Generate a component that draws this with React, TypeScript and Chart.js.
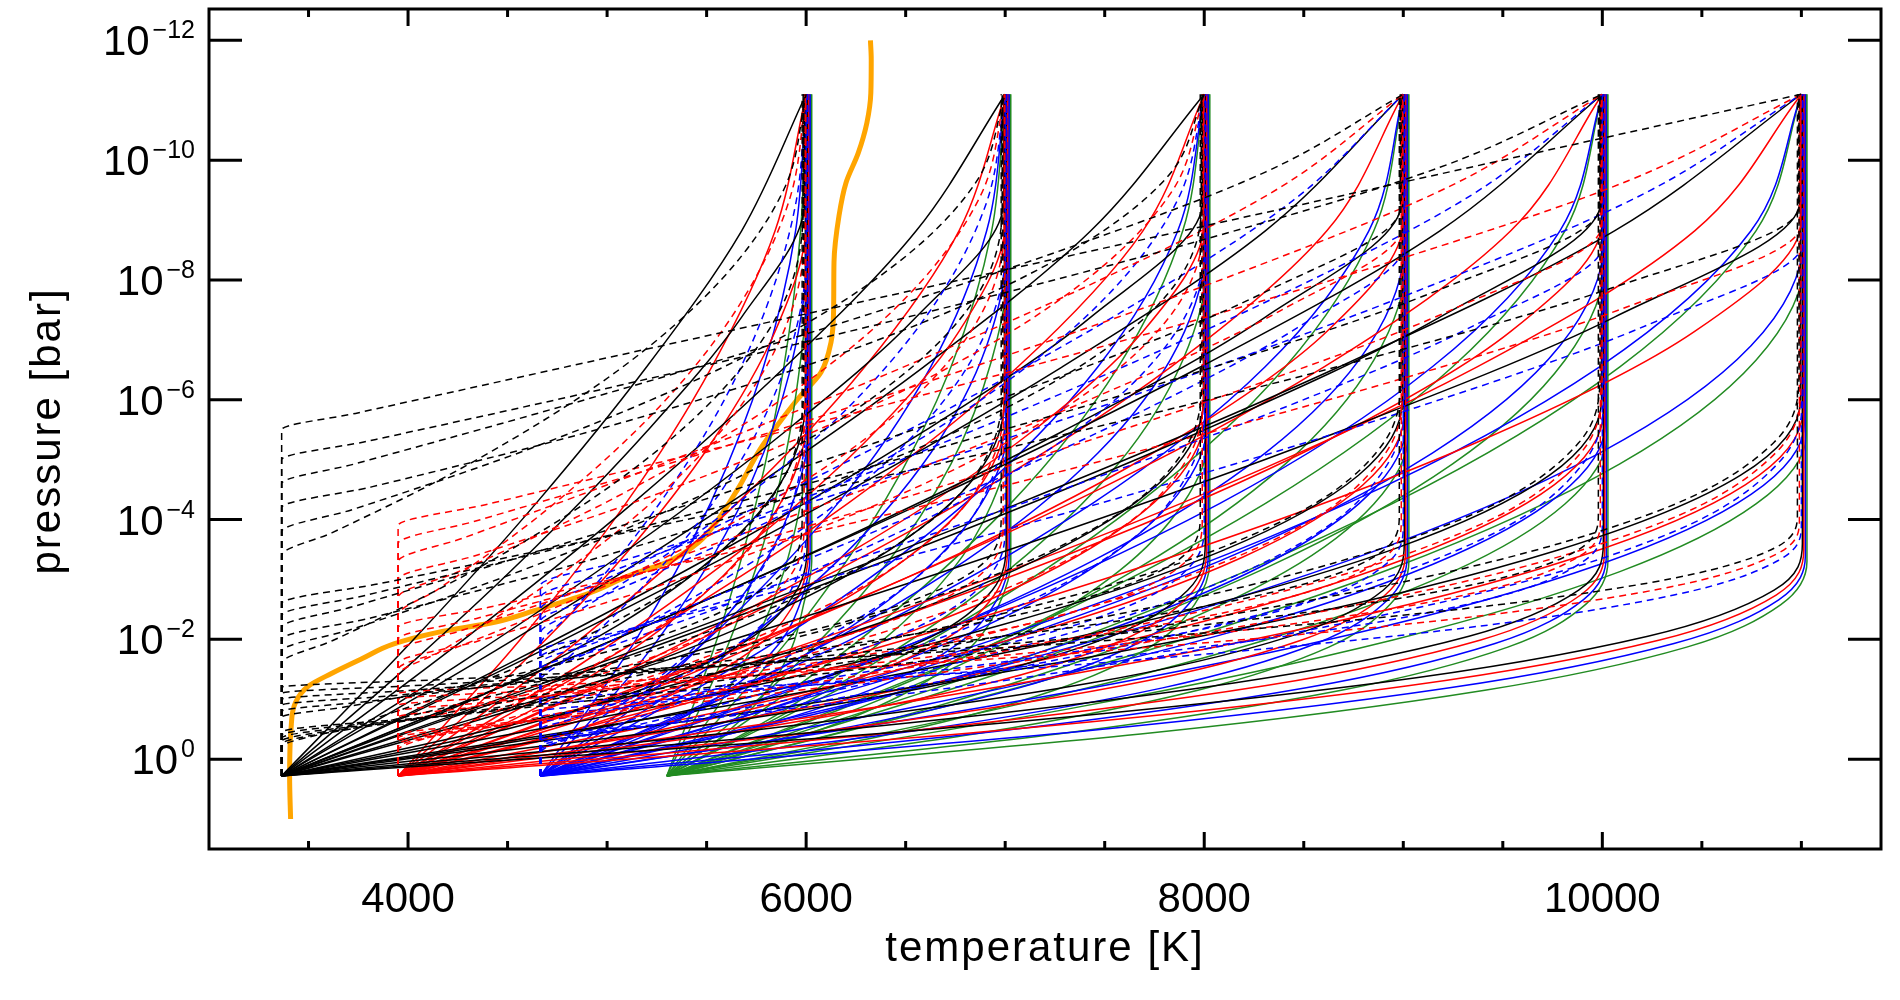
import React, { useEffect, useRef } from 'react';
import { Chart, registerables } from 'chart.js';

Chart.register(...registerables);

// Each profile: list of [temperature K, log10(pressure / bar)], from the deep end upwards.
type Profile = number[][];

const xMajorTicks = [4000, 6000, 8000, 10000];
const xMinorTicks = [3500, 4500, 5000, 5500, 6500, 7000, 7500, 8500, 9000, 9500, 10500, 11000];
const yTickExponents = [-12, -10, -8, -6, -4, -2, 0];

const blackDashed: Profile[] = [
  [[3365,0.28],[3365,-3.4],[3622,-3.785],[4314,-4.94],[5051,-6.48],[5578,-8.02],[5895,-9.56],[6000,-11.1]],
  [[3365,0.28],[3365,-3.8],[3719,-4.165],[4674,-5.26],[5691,-6.72],[6418,-8.18],[6855,-9.64],[7000,-11.1]],
  [[3365,0.28],[3365,-4.2],[3817,-4.545],[5034,-5.58],[6331,-6.96],[7258,-8.34],[7815,-9.72],[8000,-11.1]],
  [[3365,0.28],[3365,-4.6],[3728,-4.925],[4785,-5.9],[6098,-7.2],[7287,-8.5],[8307,-9.8],[9000,-11.1]],
  [[3365,0.28],[3365,-5.0],[3793,-5.305],[5037,-6.22],[6583,-7.44],[7983,-8.66],[9184,-9.88],[10000,-11.1]],
  [[3365,0.28],[3365,-5.5],[3747,-5.78],[4892,-6.62],[6419,-7.74],[7946,-8.86],[9473,-9.98],[11000,-11.1]],
  [[3365,0.28],[3365,-1.6],[3622,-1.98],[4314,-3.12],[5051,-4.64],[5578,-6.16],[5895,-7.68],[5985,-9.2],[5985,-11.1]],
  [[3365,0.28],[3365,-1.8],[3719,-2.17],[4674,-3.28],[5691,-4.76],[6418,-6.24],[6855,-7.72],[6985,-9.2],[6985,-11.1]],
  [[3365,0.28],[3365,-2.0],[3817,-2.36],[5034,-3.44],[6331,-4.88],[7258,-6.32],[7815,-7.76],[7985,-9.2],[7985,-11.1]],
  [[3365,0.28],[3365,-2.2],[3728,-2.55],[4785,-3.6],[6098,-5.0],[7287,-6.4],[8307,-7.8],[8985,-9.2],[8985,-11.1]],
  [[3365,0.28],[3365,-2.4],[3793,-2.74],[5037,-3.76],[6583,-5.12],[7983,-6.48],[9184,-7.84],[9985,-9.2],[9985,-11.1]],
  [[3365,0.28],[3365,-2.6],[3857,-2.93],[5289,-3.92],[7068,-5.24],[8679,-6.56],[10061,-7.88],[10985,-9.2],[10985,-11.1]],
  [[3365,0.28],[3365,-0.7],[3681,-0.87],[4493,-1.38],[5265,-2.06],[5734,-2.74],[5953,-3.42],[5980,-4.1],[5980,-11.1]],
  [[3365,0.28],[3365,-0.8],[3801,-0.965],[4921,-1.46],[5986,-2.12],[6633,-2.78],[6935,-3.44],[6980,-4.1],[6980,-11.1]],
  [[3365,0.28],[3365,-0.9],[3921,-1.06],[5349,-1.54],[6707,-2.18],[7532,-2.82],[7917,-3.46],[7980,-4.1],[7980,-11.1]],
  [[3365,0.28],[3365,-1.0],[4041,-1.155],[5777,-1.62],[7428,-2.24],[8431,-2.86],[8899,-3.48],[8980,-4.1],[8980,-11.1]],
  [[3365,0.28],[3365,-1.1],[4161,-1.25],[6205,-1.7],[8149,-2.3],[9330,-2.9],[9881,-3.5],[9980,-4.1],[9980,-11.1]],
  [[3365,0.28],[3365,-1.2],[4281,-1.345],[6633,-1.78],[8870,-2.36],[10229,-2.94],[10863,-3.52],[10980,-4.1],[10980,-11.1]],
  [[3365,0.28],[3365,-0.2],[3681,-0.515],[4493,-1.46],[5265,-2.72],[5734,-3.98],[5953,-5.24],[5988,-6.5],[5988,-11.1]],
  [[3365,0.28],[3365,-0.25],[3801,-0.56],[4921,-1.5],[5986,-2.75],[6633,-4.0],[6935,-5.25],[6988,-6.5],[6988,-11.1]],
  [[3365,0.28],[3365,-0.3],[3921,-0.61],[5349,-1.54],[6707,-2.78],[7532,-4.02],[7917,-5.26],[7988,-6.5],[7988,-11.1]],
  [[3365,0.28],[3365,-0.35],[4041,-0.66],[5777,-1.58],[7428,-2.81],[8431,-4.04],[8899,-5.27],[8988,-6.5],[8988,-11.1]],
  [[3365,0.28],[3365,-0.4],[4161,-0.71],[6205,-1.62],[8149,-2.84],[9330,-4.06],[9881,-5.28],[9988,-6.5],[9988,-11.1]],
  [[3365,0.28],[3365,-0.45],[4281,-0.75],[6633,-1.66],[8870,-2.87],[10229,-4.08],[10863,-5.29],[10988,-6.5],[10988,-11.1]],
];

const redDashed: Profile[] = [
  [[3950,0.28],[3950,-2.4],[4150,-2.835],[4688,-4.14],[5262,-5.88],[5672,-7.62],[5918,-9.36],[6000,-11.1]],
  [[3950,0.28],[3950,-2.7],[4247,-3.12],[5048,-4.38],[5902,-6.06],[6512,-7.74],[6878,-9.42],[7000,-11.1]],
  [[3950,0.28],[3950,-3.0],[4345,-3.405],[5408,-4.62],[6542,-6.24],[7352,-7.86],[7838,-9.48],[8000,-11.1]],
  [[3950,0.28],[3950,-3.3],[4276,-3.69],[5223,-4.86],[6399,-6.42],[7465,-7.98],[8379,-9.54],[9000,-11.1]],
  [[3950,0.28],[3950,-3.6],[4340,-3.975],[5475,-5.1],[6884,-6.6],[8161,-8.1],[9256,-9.6],[10000,-11.1]],
  [[3950,0.28],[3950,-3.9],[4405,-4.26],[5727,-5.34],[7369,-6.78],[8857,-8.22],[10133,-9.66],[11000,-11.1]],
  [[3950,0.28],[3950,-1.4],[4150,-1.775],[4688,-2.9],[5262,-4.4],[5672,-5.9],[5918,-7.4],[5995,-8.9],[5995,-11.1]],
  [[3950,0.28],[3950,-1.5],[4247,-1.87],[5048,-2.98],[5902,-4.46],[6512,-5.94],[6878,-7.42],[6995,-8.9],[6995,-11.1]],
  [[3950,0.28],[3950,-1.6],[4345,-1.965],[5408,-3.06],[6542,-4.52],[7352,-5.98],[7838,-7.44],[7995,-8.9],[7995,-11.1]],
  [[3950,0.28],[3950,-1.8],[4276,-2.155],[5223,-3.22],[6399,-4.64],[7465,-6.06],[8379,-7.48],[8995,-8.9],[8995,-11.1]],
  [[3950,0.28],[3950,-2.0],[4340,-2.345],[5475,-3.38],[6884,-4.76],[8161,-6.14],[9256,-7.52],[9995,-8.9],[9995,-11.1]],
  [[3950,0.28],[3950,-2.2],[4405,-2.535],[5727,-3.54],[7369,-4.88],[8857,-6.22],[10133,-7.56],[10995,-8.9],[10995,-11.1]],
  [[3950,0.28],[3950,-0.6],[4196,-0.77],[4827,-1.28],[5428,-1.96],[5793,-2.64],[5963,-3.32],[5990,-4.0],[5990,-11.1]],
  [[3950,0.28],[3950,-0.7],[4316,-0.865],[5255,-1.36],[6149,-2.02],[6692,-2.68],[6945,-3.34],[6990,-4.0],[6990,-11.1]],
  [[3950,0.28],[3950,-0.8],[4436,-0.96],[5683,-1.44],[6870,-2.08],[7591,-2.72],[7927,-3.36],[7990,-4.0],[7990,-11.1]],
  [[3950,0.28],[3950,-0.9],[4556,-1.055],[6111,-1.52],[7591,-2.14],[8490,-2.76],[8909,-3.38],[8990,-4.0],[8990,-11.1]],
  [[3950,0.28],[3950,-1.0],[4676,-1.15],[6539,-1.6],[8312,-2.2],[9389,-2.8],[9891,-3.4],[9990,-4.0],[9990,-11.1]],
  [[3950,0.28],[3950,-1.1],[4796,-1.245],[6967,-1.68],[9033,-2.26],[10288,-2.84],[10873,-3.42],[10990,-4.0],[10990,-11.1]],
  [[3950,0.28],[3950,-0.15],[4196,-0.46],[4827,-1.38],[5428,-2.61],[5793,-3.84],[5963,-5.07],[5998,-6.3],[5998,-11.1]],
  [[3950,0.28],[3950,-0.2],[4316,-0.51],[5255,-1.42],[6149,-2.64],[6692,-3.86],[6945,-5.08],[6998,-6.3],[6998,-11.1]],
  [[3950,0.28],[3950,-0.25],[4436,-0.55],[5683,-1.46],[6870,-2.67],[7591,-3.88],[7927,-5.09],[7998,-6.3],[7998,-11.1]],
  [[3950,0.28],[3950,-0.3],[4556,-0.6],[6111,-1.5],[7591,-2.7],[8490,-3.9],[8909,-5.1],[8998,-6.3],[8998,-11.1]],
  [[3950,0.28],[3950,-0.35],[4676,-0.65],[6539,-1.54],[8312,-2.73],[9389,-3.92],[9891,-5.11],[9998,-6.3],[9998,-11.1]],
  [[3950,0.28],[3950,-0.4],[4796,-0.7],[6967,-1.58],[9033,-2.76],[10288,-3.94],[10873,-5.12],[10998,-6.3],[10998,-11.1]],
];

const blueDashed: Profile[] = [
  [[4665,0.28],[4665,-1.9],[4795,-2.36],[5146,-3.74],[5519,-5.58],[5786,-7.42],[5947,-9.26],[6000,-11.1]],
  [[4665,0.28],[4665,-2.1],[4893,-2.55],[5506,-3.9],[6159,-5.7],[6626,-7.5],[6907,-9.3],[7000,-11.1]],
  [[4665,0.28],[4665,-2.3],[4990,-2.74],[5866,-4.06],[6799,-5.82],[7466,-7.58],[7867,-9.34],[8000,-11.1]],
  [[4665,0.28],[4665,-2.5],[4945,-2.93],[5757,-4.22],[6767,-5.94],[7682,-7.66],[8467,-9.38],[9000,-11.1]],
  [[4665,0.28],[4665,-2.7],[5009,-3.12],[6009,-4.38],[7252,-6.06],[8378,-7.74],[9344,-9.42],[10000,-11.1]],
  [[4665,0.28],[4665,-2.9],[5074,-3.31],[6261,-4.54],[7737,-6.18],[9074,-7.82],[10221,-9.46],[11000,-11.1]],
  [[4665,0.28],[4665,-1.3],[4795,-1.665],[5146,-2.76],[5519,-4.22],[5786,-5.68],[5947,-7.14],[6005,-8.6],[6005,-11.1]],
  [[4665,0.28],[4665,-1.4],[4893,-1.76],[5506,-2.84],[6159,-4.28],[6626,-5.72],[6907,-7.16],[7005,-8.6],[7005,-11.1]],
  [[4665,0.28],[4665,-1.5],[4990,-1.855],[5866,-2.92],[6799,-4.34],[7466,-5.76],[7867,-7.18],[8005,-8.6],[8005,-11.1]],
  [[4665,0.28],[4665,-1.6],[4945,-1.95],[5757,-3.0],[6767,-4.4],[7682,-5.8],[8467,-7.2],[9005,-8.6],[9005,-11.1]],
  [[4665,0.28],[4665,-1.7],[5009,-2.045],[6009,-3.08],[7252,-4.46],[8378,-5.84],[9344,-7.22],[10005,-8.6],[10005,-11.1]],
  [[4665,0.28],[4665,-1.8],[5074,-2.14],[6261,-3.16],[7737,-4.52],[9074,-5.88],[10221,-7.24],[11005,-8.6],[11005,-11.1]],
  [[4665,0.28],[4665,-0.5],[4825,-0.67],[5236,-1.18],[5628,-1.86],[5865,-2.54],[5976,-3.22],[6000,-3.9],[6000,-11.1]],
  [[4665,0.28],[4665,-0.6],[4945,-0.765],[5664,-1.26],[6349,-1.92],[6764,-2.58],[6958,-3.24],[7000,-3.9],[7000,-11.1]],
  [[4665,0.28],[4665,-0.7],[5065,-0.86],[6092,-1.34],[7070,-1.98],[7663,-2.62],[7940,-3.26],[8000,-3.9],[8000,-11.1]],
  [[4665,0.28],[4665,-0.8],[5185,-0.955],[6520,-1.42],[7791,-2.04],[8562,-2.66],[8922,-3.28],[9000,-3.9],[9000,-11.1]],
  [[4665,0.28],[4665,-0.9],[5305,-1.05],[6948,-1.5],[8512,-2.1],[9461,-2.7],[9904,-3.3],[10000,-3.9],[10000,-11.1]],
  [[4665,0.28],[4665,-1.0],[5425,-1.145],[7376,-1.58],[9233,-2.16],[10360,-2.74],[10886,-3.32],[11000,-3.9],[11000,-11.1]],
  [[4665,0.28],[4665,-0.1],[4825,-0.4],[5236,-1.3],[5628,-2.5],[5865,-3.7],[5976,-4.9],[6008,-6.1],[6008,-11.1]],
  [[4665,0.28],[4665,-0.15],[4945,-0.45],[5664,-1.34],[6349,-2.53],[6764,-3.72],[6958,-4.91],[7008,-6.1],[7008,-11.1]],
  [[4665,0.28],[4665,-0.2],[5065,-0.5],[6092,-1.38],[7070,-2.56],[7663,-3.74],[7940,-4.92],[8008,-6.1],[8008,-11.1]],
  [[4665,0.28],[4665,-0.25],[5185,-0.54],[6520,-1.42],[7791,-2.59],[8562,-3.76],[8922,-4.93],[9008,-6.1],[9008,-11.1]],
  [[4665,0.28],[4665,-0.3],[5305,-0.59],[6948,-1.46],[8512,-2.62],[9461,-3.78],[9904,-4.94],[10008,-6.1],[10008,-11.1]],
  [[4665,0.28],[4665,-0.35],[5425,-0.64],[7376,-1.5],[9233,-2.65],[10360,-3.8],[10886,-4.95],[11008,-6.1],[11008,-11.1]],
];

const blackSolid: Profile[] = [
  [[3365,0.28],[4029,-2.0],[4643,-4.27],[5199,-6.55],[5676,-8.82],[6000,-11.1]],
  [[3365,0.28],[4281,-2.0],[5128,-4.27],[5895,-6.55],[6553,-8.82],[7000,-11.1]],
  [[3365,0.28],[4533,-2.0],[5613,-4.27],[6591,-6.55],[7430,-8.82],[8000,-11.1]],
  [[3365,0.28],[4785,-2.0],[6098,-4.27],[7287,-6.55],[8307,-8.82],[9000,-11.1]],
  [[3365,0.28],[5037,-2.0],[6583,-4.27],[7983,-6.55],[9184,-8.82],[10000,-11.1]],
  [[3365,0.28],[5289,-2.0],[7068,-4.27],[8679,-6.55],[10061,-8.82],[11000,-11.1]],
  [[3365,0.28],[4029,-1.64],[4643,-3.55],[5199,-5.47],[5676,-7.38],[5992,-9.3],[5992,-11.1]],
  [[3365,0.28],[4281,-1.64],[5128,-3.55],[5895,-5.47],[6553,-7.38],[6992,-9.3],[6992,-11.1]],
  [[3365,0.28],[4533,-1.64],[5613,-3.55],[6591,-5.47],[7430,-7.38],[7992,-9.3],[7992,-11.1]],
  [[3365,0.28],[4785,-1.64],[6098,-3.55],[7287,-5.47],[8307,-7.38],[8992,-9.3],[8992,-11.1]],
  [[3365,0.28],[5037,-1.64],[6583,-3.55],[7983,-5.47],[9184,-7.38],[9992,-9.3],[9992,-11.1]],
  [[3365,0.28],[5289,-1.64],[7068,-3.55],[8679,-5.47],[10061,-7.38],[10992,-9.3],[10992,-11.1]],
  [[3365,0.28],[4314,-0.98],[5051,-2.23],[5578,-3.49],[5895,-4.74],[5996,-6.0],[5996,-11.1]],
  [[3365,0.28],[4674,-0.98],[5691,-2.23],[6418,-3.49],[6855,-4.74],[6996,-6.0],[6996,-11.1]],
  [[3365,0.28],[5034,-0.98],[6331,-2.23],[7258,-3.49],[7815,-4.74],[7996,-6.0],[7996,-11.1]],
  [[3365,0.28],[5394,-0.98],[6971,-2.23],[8098,-3.49],[8775,-4.74],[8996,-6.0],[8996,-11.1]],
  [[3365,0.28],[5754,-0.98],[7611,-2.23],[8938,-3.49],[9735,-4.74],[9996,-6.0],[9996,-11.1]],
  [[3365,0.28],[6114,-0.98],[8251,-2.23],[9778,-3.49],[10695,-4.74],[10996,-6.0],[10996,-11.1]],
  [[3365,0.28],[4493,-0.5],[5265,-1.27],[5734,-2.05],[5953,-2.82],[6005,-3.6],[6005,-11.1]],
  [[3365,0.28],[4921,-0.5],[5986,-1.27],[6633,-2.05],[6935,-2.82],[7005,-3.6],[7005,-11.1]],
  [[3365,0.28],[5349,-0.5],[6707,-1.27],[7532,-2.05],[7917,-2.82],[8005,-3.6],[8005,-11.1]],
  [[3365,0.28],[5777,-0.5],[7428,-1.27],[8431,-2.05],[8899,-2.82],[9005,-3.6],[9005,-11.1]],
  [[3365,0.28],[6205,-0.5],[8149,-1.27],[9330,-2.05],[9881,-2.82],[10005,-3.6],[10005,-11.1]],
  [[3365,0.28],[6633,-0.5],[8870,-1.27],[10229,-2.05],[10863,-2.82],[11005,-3.6],[11005,-11.1]],
];

const redSolid: Profile[] = [
  [[3950,0.28],[4565,-2.0],[5094,-4.27],[5526,-6.55],[5844,-8.82],[6000,-11.1]],
  [[3950,0.28],[4865,-2.0],[5652,-4.27],[6295,-6.55],[6768,-8.82],[7000,-11.1]],
  [[3950,0.28],[5165,-2.0],[6210,-4.27],[7064,-6.55],[7692,-8.82],[8000,-11.1]],
  [[3950,0.28],[5465,-2.0],[6768,-4.27],[7833,-6.55],[8616,-8.82],[9000,-11.1]],
  [[3950,0.28],[5765,-2.0],[7326,-4.27],[8602,-6.55],[9540,-8.82],[10000,-11.1]],
  [[3950,0.28],[6065,-2.0],[7884,-4.27],[9371,-6.55],[10464,-8.82],[11000,-11.1]],
  [[3950,0.28],[4565,-1.58],[5094,-3.43],[5526,-5.29],[5844,-7.14],[6002,-9.0],[6002,-11.1]],
  [[3950,0.28],[4865,-1.58],[5652,-3.43],[6295,-5.29],[6768,-7.14],[7002,-9.0],[7002,-11.1]],
  [[3950,0.28],[5165,-1.58],[6210,-3.43],[7064,-5.29],[7692,-7.14],[8002,-9.0],[8002,-11.1]],
  [[3950,0.28],[5465,-1.58],[6768,-3.43],[7833,-5.29],[8616,-7.14],[9002,-9.0],[9002,-11.1]],
  [[3950,0.28],[5765,-1.58],[7326,-3.43],[8602,-5.29],[9540,-7.14],[10002,-9.0],[10002,-11.1]],
  [[3950,0.28],[6065,-1.58],[7884,-3.43],[9371,-5.29],[10464,-7.14],[11002,-9.0],[11002,-11.1]],
  [[3950,0.28],[4688,-0.94],[5262,-2.15],[5672,-3.37],[5918,-4.58],[6006,-5.8],[6006,-11.1]],
  [[3950,0.28],[5048,-0.94],[5902,-2.15],[6512,-3.37],[6878,-4.58],[7006,-5.8],[7006,-11.1]],
  [[3950,0.28],[5408,-0.94],[6542,-2.15],[7352,-3.37],[7838,-4.58],[8006,-5.8],[8006,-11.1]],
  [[3950,0.28],[5768,-0.94],[7182,-2.15],[8192,-3.37],[8798,-4.58],[9006,-5.8],[9006,-11.1]],
  [[3950,0.28],[6128,-0.94],[7822,-2.15],[9032,-3.37],[9758,-4.58],[10006,-5.8],[10006,-11.1]],
  [[3950,0.28],[6488,-0.94],[8462,-2.15],[9872,-3.37],[10718,-4.58],[11006,-5.8],[11006,-11.1]],
  [[3950,0.28],[4827,-0.48],[5428,-1.23],[5793,-1.99],[5963,-2.74],[6012,-3.5],[6012,-11.1]],
  [[3950,0.28],[5255,-0.48],[6149,-1.23],[6692,-1.99],[6945,-2.74],[7012,-3.5],[7012,-11.1]],
  [[3950,0.28],[5683,-0.48],[6870,-1.23],[7591,-1.99],[7927,-2.74],[8012,-3.5],[8012,-11.1]],
  [[3950,0.28],[6111,-0.48],[7591,-1.23],[8490,-1.99],[8909,-2.74],[9012,-3.5],[9012,-11.1]],
  [[3950,0.28],[6539,-0.48],[8312,-1.23],[9389,-1.99],[9891,-2.74],[10012,-3.5],[10012,-11.1]],
  [[3950,0.28],[6967,-0.48],[9033,-1.23],[10288,-1.99],[10873,-2.74],[11012,-3.5],[11012,-11.1]],
];

const blueSolid: Profile[] = [
  [[4665,0.28],[5146,-2.0],[5519,-4.27],[5786,-6.55],[5947,-8.82],[6000,-11.1]],
  [[4665,0.28],[5506,-2.0],[6159,-4.27],[6626,-6.55],[6907,-8.82],[7000,-11.1]],
  [[4665,0.28],[5866,-2.0],[6799,-4.27],[7466,-6.55],[7867,-8.82],[8000,-11.1]],
  [[4665,0.28],[6226,-2.0],[7439,-4.27],[8306,-6.55],[8827,-8.82],[9000,-11.1]],
  [[4665,0.28],[6586,-2.0],[8079,-4.27],[9146,-6.55],[9787,-8.82],[10000,-11.1]],
  [[4665,0.28],[6946,-2.0],[8719,-4.27],[9986,-6.55],[10747,-8.82],[11000,-11.1]],
  [[4665,0.28],[5146,-1.52],[5519,-3.31],[5786,-5.11],[5947,-6.9],[6010,-8.7],[6010,-11.1]],
  [[4665,0.28],[5506,-1.52],[6159,-3.31],[6626,-5.11],[6907,-6.9],[7010,-8.7],[7010,-11.1]],
  [[4665,0.28],[5866,-1.52],[6799,-3.31],[7466,-5.11],[7867,-6.9],[8010,-8.7],[8010,-11.1]],
  [[4665,0.28],[6226,-1.52],[7439,-3.31],[8306,-5.11],[8827,-6.9],[9010,-8.7],[9010,-11.1]],
  [[4665,0.28],[6586,-1.52],[8079,-3.31],[9146,-5.11],[9787,-6.9],[10010,-8.7],[10010,-11.1]],
  [[4665,0.28],[6946,-1.52],[8719,-3.31],[9986,-5.11],[10747,-6.9],[11010,-8.7],[11010,-11.1]],
  [[4665,0.28],[5146,-0.9],[5519,-2.07],[5786,-3.25],[5947,-4.42],[6015,-5.6],[6015,-11.1]],
  [[4665,0.28],[5506,-0.9],[6159,-2.07],[6626,-3.25],[6907,-4.42],[7015,-5.6],[7015,-11.1]],
  [[4665,0.28],[5866,-0.9],[6799,-2.07],[7466,-3.25],[7867,-4.42],[8015,-5.6],[8015,-11.1]],
  [[4665,0.28],[6226,-0.9],[7439,-2.07],[8306,-3.25],[8827,-4.42],[9015,-5.6],[9015,-11.1]],
  [[4665,0.28],[6586,-0.9],[8079,-2.07],[9146,-3.25],[9787,-4.42],[10015,-5.6],[10015,-11.1]],
  [[4665,0.28],[6946,-0.9],[8719,-2.07],[9986,-3.25],[10747,-4.42],[11015,-5.6],[11015,-11.1]],
  [[4665,0.28],[5236,-0.46],[5628,-1.19],[5865,-1.93],[5976,-2.66],[6020,-3.4],[6020,-11.1]],
  [[4665,0.28],[5664,-0.46],[6349,-1.19],[6764,-1.93],[6958,-2.66],[7020,-3.4],[7020,-11.1]],
  [[4665,0.28],[6092,-0.46],[7070,-1.19],[7663,-1.93],[7940,-2.66],[8020,-3.4],[8020,-11.1]],
  [[4665,0.28],[6520,-0.46],[7791,-1.19],[8562,-1.93],[8922,-2.66],[9020,-3.4],[9020,-11.1]],
  [[4665,0.28],[6948,-0.46],[8512,-1.19],[9461,-1.93],[9904,-2.66],[10020,-3.4],[10020,-11.1]],
  [[4665,0.28],[7376,-0.46],[9233,-1.19],[10360,-1.93],[10886,-2.66],[11020,-3.4],[11020,-11.1]],
];

const greenSolid: Profile[] = [
  [[5300,0.28],[5552,-2.0],[5748,-4.27],[5888,-6.55],[5972,-8.82],[6000,-11.1]],
  [[5300,0.28],[5912,-2.0],[6388,-4.27],[6728,-6.55],[6932,-8.82],[7000,-11.1]],
  [[5300,0.28],[6272,-2.0],[7028,-4.27],[7568,-6.55],[7892,-8.82],[8000,-11.1]],
  [[5300,0.28],[6632,-2.0],[7668,-4.27],[8408,-6.55],[8852,-8.82],[9000,-11.1]],
  [[5300,0.28],[6992,-2.0],[8308,-4.27],[9248,-6.55],[9812,-8.82],[10000,-11.1]],
  [[5300,0.28],[7352,-2.0],[8948,-4.27],[10088,-6.55],[10772,-8.82],[11000,-11.1]],
  [[5300,0.28],[5552,-1.46],[5748,-3.19],[5888,-4.93],[5972,-6.66],[6018,-8.4],[6018,-11.1]],
  [[5300,0.28],[5912,-1.46],[6388,-3.19],[6728,-4.93],[6932,-6.66],[7018,-8.4],[7018,-11.1]],
  [[5300,0.28],[6272,-1.46],[7028,-3.19],[7568,-4.93],[7892,-6.66],[8018,-8.4],[8018,-11.1]],
  [[5300,0.28],[6632,-1.46],[7668,-3.19],[8408,-4.93],[8852,-6.66],[9018,-8.4],[9018,-11.1]],
  [[5300,0.28],[6992,-1.46],[8308,-3.19],[9248,-4.93],[9812,-6.66],[10018,-8.4],[10018,-11.1]],
  [[5300,0.28],[7352,-1.46],[8948,-3.19],[10088,-4.93],[10772,-6.66],[11018,-8.4],[11018,-11.1]],
  [[5300,0.28],[5552,-0.86],[5748,-1.99],[5888,-3.13],[5972,-4.26],[6024,-5.4],[6024,-11.1]],
  [[5300,0.28],[5912,-0.86],[6388,-1.99],[6728,-3.13],[6932,-4.26],[7024,-5.4],[7024,-11.1]],
  [[5300,0.28],[6272,-0.86],[7028,-1.99],[7568,-3.13],[7892,-4.26],[8024,-5.4],[8024,-11.1]],
  [[5300,0.28],[6632,-0.86],[7668,-1.99],[8408,-3.13],[8852,-4.26],[9024,-5.4],[9024,-11.1]],
  [[5300,0.28],[6992,-0.86],[8308,-1.99],[9248,-3.13],[9812,-4.26],[10024,-5.4],[10024,-11.1]],
  [[5300,0.28],[7352,-0.86],[8948,-1.99],[10088,-3.13],[10772,-4.26],[11024,-5.4],[11024,-11.1]],
  [[5300,0.28],[5600,-0.44],[5805,-1.15],[5929,-1.87],[5987,-2.58],[6028,-3.3],[6028,-11.1]],
  [[5300,0.28],[6028,-0.44],[6526,-1.15],[6828,-1.87],[6969,-2.58],[7028,-3.3],[7028,-11.1]],
  [[5300,0.28],[6456,-0.44],[7247,-1.15],[7727,-1.87],[7951,-2.58],[8028,-3.3],[8028,-11.1]],
  [[5300,0.28],[6884,-0.44],[7968,-1.15],[8626,-1.87],[8933,-2.58],[9028,-3.3],[9028,-11.1]],
  [[5300,0.28],[7312,-0.44],[8689,-1.15],[9525,-1.87],[9915,-2.58],[10028,-3.3],[10028,-11.1]],
  [[5300,0.28],[7740,-0.44],[9410,-1.15],[10424,-1.87],[10897,-2.58],[11028,-3.3],[11028,-11.1]],
];

const orangeProfile: Profile = [
  [3410,1.0],[3405,0.3],[3412,-0.5],[3435,-0.95],[3500,-1.22],[3615,-1.43],[3770,-1.68],
  [3925,-1.92],[4155,-2.12],[4440,-2.29],[4635,-2.48],[4925,-2.79],[5115,-3.07],[5310,-3.3],
  [5460,-3.62],[5540,-3.92],[5655,-4.5],[5770,-5.18],[5850,-5.55],[5960,-6.02],[6075,-6.46],
  [6125,-6.96],[6138,-7.5],[6140,-8.3],[6165,-9.07],[6200,-9.62],[6262,-10.12],[6305,-10.62],
  [6325,-11.12],[6327,-11.68],[6323,-12.0],
];

const FONT = '"Liberation Sans", Arial, Helvetica, sans-serif';

function toPoints(p: Profile) {
  return p.map(([t, lp]) => ({ x: t, y: Math.pow(10, lp) }));
}

function makeSets(list: Profile[], color: string, dashed: boolean) {
  return list.map((p) => ({
    data: toPoints(p),
    borderColor: color,
    borderWidth: 1.5,
    borderDash: dashed ? [7, 5] : [],
    pointRadius: 0,
    fill: false,
    cubicInterpolationMode: 'monotone' as const,
  }));
}

const idlFrame = {
  id: 'idlFrame',
  afterDatasetsDraw(chart: any) {
    const { ctx, chartArea: a, scales } = chart;
    const xs = scales.x;
    const ys = scales.y;
    ctx.save();
    ctx.strokeStyle = '#000';
    ctx.lineWidth = 3;
    ctx.setLineDash([]);
    ctx.strokeRect(a.left, a.top, a.right - a.left, a.bottom - a.top);
    ctx.beginPath();
    for (const v of xMajorTicks) {
      const px = xs.getPixelForValue(v);
      ctx.moveTo(px, a.bottom); ctx.lineTo(px, a.bottom - 17);
      ctx.moveTo(px, a.top); ctx.lineTo(px, a.top + 17);
    }
    for (const v of xMinorTicks) {
      const px = xs.getPixelForValue(v);
      ctx.moveTo(px, a.bottom); ctx.lineTo(px, a.bottom - 8);
      ctx.moveTo(px, a.top); ctx.lineTo(px, a.top + 8);
    }
    for (const e of yTickExponents) {
      const py = ys.getPixelForValue(Math.pow(10, e));
      ctx.moveTo(a.left, py); ctx.lineTo(a.left + 33, py);
      ctx.moveTo(a.right, py); ctx.lineTo(a.right - 33, py);
    }
    ctx.stroke();

    ctx.fillStyle = '#000';
    ctx.textBaseline = 'alphabetic';
    ctx.font = `42px ${FONT}`;
    ctx.textAlign = 'center';
    for (const v of xMajorTicks) {
      ctx.fillText(String(v), xs.getPixelForValue(v), 912);
    }
    const labelRight = a.left - 14;
    for (const e of yTickExponents) {
      const py = ys.getPixelForValue(Math.pow(10, e));
      const sup = e === 0 ? '0' : '\u2212' + Math.abs(e);
      ctx.font = `25px ${FONT}`;
      ctx.textAlign = 'right';
      const sw = ctx.measureText(sup).width;
      ctx.fillText(sup, labelRight, py - 2);
      ctx.font = `42px ${FONT}`;
      ctx.fillText('10', labelRight - sw - 3, py + 15);
    }
    ctx.font = `42px ${FONT}`;
    ctx.textAlign = 'center';
    (ctx as any).letterSpacing = '2px';
    ctx.fillText('temperature [K]', (a.left + a.right) / 2, 961);
    ctx.save();
    ctx.translate(60, (a.top + a.bottom) / 2 + 2);
    ctx.rotate(-Math.PI / 2);
    ctx.fillText('pressure [bar]', 0, 0);
    ctx.restore();
    (ctx as any).letterSpacing = '0px';
    ctx.restore();
  },
};

export default function App() {
  const ref = useRef<HTMLCanvasElement | null>(null);
  useEffect(() => {
    if (!ref.current) return;
    const datasets: any[] = [
      ...makeSets(blackDashed, '#000000', true),
      ...makeSets(redDashed, '#ff0000', true),
      ...makeSets(blueDashed, '#0000ff', true),
      ...makeSets(blackSolid, '#000000', false),
      ...makeSets(redSolid, '#ff0000', false),
      ...makeSets(blueSolid, '#0000ff', false),
      ...makeSets(greenSolid, '#228b22', false),
      {
        data: toPoints(orangeProfile),
        borderColor: '#ffa500',
        borderWidth: 5,
        pointRadius: 0,
        fill: false,
        cubicInterpolationMode: 'monotone',
      },
    ];
    const chart = new Chart(ref.current, {
      type: 'line',
      data: { datasets },
      options: {
        animation: false,
        responsive: false,
        indexAxis: 'y',
        events: [],
        layout: { padding: { left: 0, top: 9, right: 19, bottom: 0 } },
        plugins: { legend: { display: false }, tooltip: { enabled: false }, title: { display: false } },
        elements: { point: { radius: 0 }, line: { tension: 0 } },
        scales: {
          x: {
            type: 'linear', position: 'bottom', min: 3000, max: 11400,
            grid: { display: false }, border: { display: false }, ticks: { display: false },
            afterFit: (s: any) => { s.height = 151; },
          },
          y: {
            type: 'logarithmic', position: 'left', min: Math.pow(10, -12.5), max: Math.pow(10, 1.5), reverse: true,
            grid: { display: false }, border: { display: false }, ticks: { display: false },
            afterFit: (s: any) => { s.width = 209; },
          },
        },
      } as any,
      plugins: [idlFrame],
    });
    return () => chart.destroy();
  }, []);
  return (
    <div style={{ position: 'fixed', left: 0, top: 0, width: 1900, height: 1000, background: '#ffffff' }}>
      <canvas ref={ref} width={1900} height={1000} style={{ display: 'block', width: 1900, height: 1000 }} />
    </div>
  );
}
